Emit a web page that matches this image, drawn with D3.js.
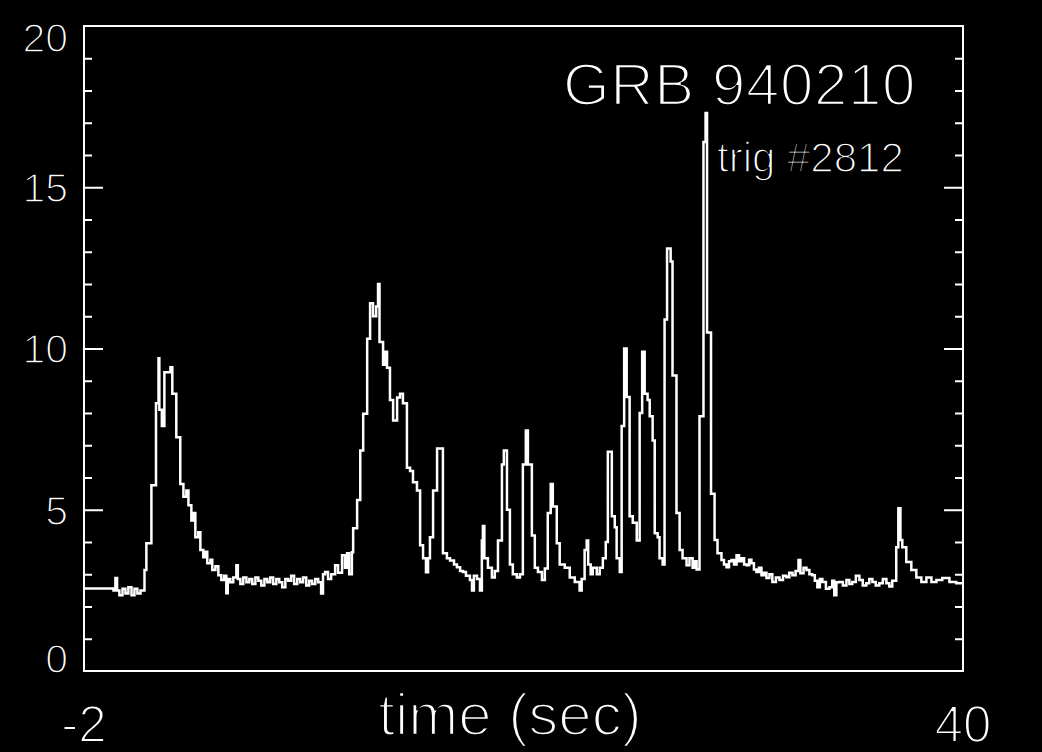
<!DOCTYPE html>
<html>
<head>
<meta charset="utf-8">
<script src="https://cdn.jsdelivr.net/npm/d3@7"></script>
<style>
  body { margin: 0; background: #000; }
  text { font-family: "Liberation Sans", Arial, sans-serif; fill: #fff; }
</style>
</head>
<body>
<svg id="chart"></svg>
<script>
// light curve, bin start time (sec) and rate
const binStart = [
  -2.00, -0.59, -0.50, -0.42, -0.31, -0.16, -0.02, 0.12, 0.27, 0.41, 0.55, 0.70,
  0.89, 0.98, 1.22, 1.44, 1.56, 1.60, 1.72, 1.84, 2.13, 2.22, 2.41, 2.60, 2.75, 2.89,
  2.99, 3.13, 3.23, 3.32, 3.46, 3.56, 3.70, 3.80, 3.89, 4.04, 4.13, 4.28, 4.42, 4.56,
  4.70, 4.80, 4.87, 4.99, 5.13, 5.28, 5.35, 5.47, 5.61, 5.76, 5.90, 6.04, 6.19, 6.33,
  6.47, 6.62, 6.76, 6.90, 7.04, 7.19, 7.33, 7.47, 7.62, 7.76, 7.90, 8.04, 8.19, 8.33,
  8.47, 8.62, 8.76, 8.90, 9.05, 9.19, 9.33, 9.42, 9.52, 9.66, 9.81, 10.00, 10.14, 10.33,
  10.47, 10.57, 10.67, 10.80, 10.86, 11.05, 11.20, 11.34, 11.53, 11.67, 11.81, 11.96,
  12.05, 12.12, 12.29, 12.39, 12.48, 12.62, 12.77, 12.96, 13.10, 13.24, 13.43, 13.58,
  13.72, 13.91, 14.06, 14.20, 14.34, 14.44, 14.53, 14.68, 14.87, 15.15, 15.34, 15.49,
  15.68, 15.82, 15.97, 16.11, 16.25, 16.44, 16.54, 16.63, 16.78, 16.92, 17.01, 17.06,
  17.13, 17.30, 17.49, 17.63, 17.78, 17.97, 18.06, 18.21, 18.35, 18.49, 18.68, 18.83,
  18.97, 19.11, 19.21, 19.40, 19.54, 19.69, 19.88, 20.02, 20.16, 20.30, 20.40, 20.59,
  20.73, 20.97, 21.21, 21.45, 21.68, 21.78, 21.92, 22.02, 22.09, 22.21, 22.31, 22.50,
  22.64, 22.79, 22.93, 23.03, 23.22, 23.36, 23.45, 23.60, 23.69, 23.81, 23.93, 24.07,
  24.22, 24.41, 24.55, 24.67, 24.79, 24.93, 25.03, 25.17, 25.27, 25.41, 25.50, 25.65,
  25.74, 25.86, 26.03, 26.12, 26.31, 26.46, 26.60, 26.79, 26.93, 27.08, 27.17, 27.27,
  27.41, 27.60, 27.70, 27.77, 27.96, 28.13, 28.27, 28.46, 28.58, 28.70, 28.82, 28.94,
  29.06, 29.18, 29.30, 29.42, 29.54, 29.66, 29.78, 29.89, 30.01, 30.13, 30.25, 30.37,
  30.49, 30.61, 30.75, 30.89, 31.06, 31.23, 31.40, 31.56, 31.70, 31.85, 32.00, 32.14,
  32.23, 32.38, 32.52, 32.66, 32.80, 32.92, 33.04, 33.16, 33.28, 33.45, 33.62, 33.75,
  33.85, 33.95, 34.09, 34.26, 34.43, 34.57, 34.71, 34.88, 35.05, 35.21, 35.38, 35.52,
  35.67, 35.83, 36.00, 36.17, 36.34, 36.48, 36.62, 36.81, 36.91, 37.01, 37.10, 37.29,
  37.53, 37.77, 38.01, 38.25, 38.49, 38.73, 39.01, 39.35, 39.68, 40.00
];
const countRate = [
  2.56, 2.50, 2.88, 2.50, 2.35, 2.55, 2.40, 2.60, 2.35, 2.55, 2.40, 2.50,
  3.13, 3.96, 5.76, 8.30, 9.70, 8.10, 7.60, 9.26, 9.42, 8.60, 7.25, 5.80, 5.40, 5.60,
  5.14, 4.67, 4.90, 4.15, 4.30, 3.75, 3.53, 3.70, 3.34, 3.45, 3.13, 3.25, 2.97, 2.82,
  2.95, 2.41, 2.85, 2.75, 2.90, 3.28, 2.85, 2.70, 2.90, 2.75, 2.85, 2.70, 2.90, 2.80,
  2.65, 2.85, 2.75, 2.90, 2.70, 2.85, 2.75, 2.60, 2.85, 2.80, 2.95, 2.70, 2.85, 2.75,
  2.90, 2.65, 2.80, 2.70, 2.85, 2.75, 2.40, 3.00, 3.07, 2.85, 3.00, 3.28, 3.05, 3.59,
  3.20, 3.65, 3.00, 3.68, 4.43, 5.30, 6.84, 7.98, 10.30, 11.40, 11.00, 11.30,
  12.00, 10.20, 9.50, 9.90, 9.40, 8.40, 7.77, 8.48, 8.60, 8.30, 6.30, 6.20,
  5.85, 5.60, 3.90, 3.50, 3.06, 3.50, 4.15, 5.60, 6.90, 3.65, 3.50, 3.43,
  3.30, 3.22, 3.10, 3.07, 2.95, 2.82, 2.50, 2.95, 2.85, 2.50, 4.05, 4.50,
  3.50, 3.20, 2.90, 3.10, 4.05, 6.40, 6.84, 5.00, 3.30, 3.00, 2.90, 3.00,
  6.40, 7.46, 6.40, 4.20, 3.20, 3.07, 2.82, 3.18, 4.90, 5.80, 5.10, 3.96,
  3.30, 3.20, 2.90, 2.76, 2.50, 2.85, 3.75, 4.05, 3.30, 3.00, 3.20, 3.00,
  3.20, 3.50, 4.00, 6.80, 4.80, 4.46, 3.50, 3.07, 7.60, 10.00, 8.50, 4.80,
  4.60, 4.05, 8.00, 9.90, 8.60, 8.40, 7.90, 7.15, 4.27, 4.15, 3.50, 3.30,
  10.90, 13.10, 12.70, 9.16, 4.90, 3.75, 3.50, 3.28, 3.50, 3.20, 3.40, 3.15,
  7.90, 16.40, 17.30, 10.50, 5.50, 4.06, 3.65, 3.44, 3.30, 3.22, 3.40, 3.44,
  3.30, 3.59, 3.40, 3.50, 3.30, 3.28, 3.45, 3.34, 3.15, 3.07, 3.20, 2.97,
  3.05, 2.88, 3.00, 2.76, 2.90, 2.82, 2.95, 2.91, 3.05, 2.97, 3.10, 3.44,
  3.03, 3.20, 3.13, 3.00, 2.97, 2.80, 2.60, 2.85, 2.76, 2.55, 2.60, 2.80,
  2.35, 2.75, 2.76, 2.65, 2.82, 2.70, 2.76, 2.95, 2.82, 2.65, 2.72, 2.85,
  2.76, 2.65, 2.72, 2.85, 2.72, 2.62, 2.80, 3.84, 5.05, 4.06, 3.84, 3.38,
  3.13, 2.90, 2.76, 2.90, 2.76, 2.82, 2.88, 2.76, 2.72, 2.72
];
const yMajorTicks = [0, 5, 10, 15, 20];
const yMinorTicks = [1, 2, 3, 4, 6, 7, 8, 9, 11, 12, 13, 14, 16, 17, 18, 19];
const xEndLabels = [-2, 40];
const burstName = "GRB 940210";
const triggerName = "trig #2812";
const xTitle = "time (sec)";

const width = 1042, height = 752;
const svg = d3.select("#chart")
  .attr("width", width)
  .attr("height", height)
  .style("background", "#000");

const x = d3.scaleLinear().domain([-2, 40]).range([84, 963]);
const y = d3.scaleLinear().domain([0, 20]).range([671, 26]);

// frame
svg.append("rect")
  .attr("x", x(-2))
  .attr("y", y(20))
  .attr("width", x(40) - x(-2))
  .attr("height", y(0) - y(20))
  .attr("fill", "none")
  .attr("stroke", "#fff")
  .attr("stroke-width", 2);

// inward ticks on both vertical sides
function ticks(axis, values, size, xpos) {
  svg.append("g")
    .attr("transform", `translate(${xpos},0)`)
    .call(axis(y).tickValues(values).tickSize(size).tickFormat(""))
    .call(g => g.select(".domain").remove())
    .call(g => g.selectAll("line").attr("stroke", "#fff").attr("stroke-width", 2));
}
ticks(d3.axisRight, yMajorTicks.slice(1, -1), 19, x(-2));
ticks(d3.axisRight, yMinorTicks, 8, x(-2));
ticks(d3.axisLeft, yMajorTicks.slice(1, -1), 19, x(40));
ticks(d3.axisLeft, yMinorTicks, 8, x(40));

// y labels (end ones nudged inside the frame like the original)
svg.append("g").selectAll("text")
  .data(yMajorTicks)
  .join("text")
  .attr("x", x(-2) - 16)
  .attr("y", d => Math.min(Math.max(y(d), y(20) + 11), y(0) - 13))
  .attr("dy", "0.36em")
  .attr("text-anchor", "end")
  .attr("font-size", 41)
  .attr("stroke", "#000")
  .attr("stroke-width", 1.6)
  .text(d => d);

svg.append("g").selectAll("text")
  .data(xEndLabels)
  .join("text")
  .attr("x", d => x(d))
  .attr("y", 742)
  .attr("text-anchor", "middle")
  .attr("font-size", 51)
  .attr("stroke", "#000")
  .attr("stroke-width", 2)
  .text(d => d);

svg.append("text")
  .attr("x", 510)
  .attr("y", 735)
  .attr("text-anchor", "middle")
  .attr("font-size", 60)
  .attr("stroke", "#000")
  .attr("stroke-width", 2.4)
  .text(xTitle);

svg.append("text")
  .attr("x", 563)
  .attr("y", 105)
  .attr("font-size", 60)
  .attr("letter-spacing", 0.6)
  .attr("stroke", "#000")
  .attr("stroke-width", 2.4)
  .text(burstName);

svg.append("text")
  .attr("x", 717)
  .attr("y", 172)
  .attr("font-size", 42)
  .attr("stroke", "#000")
  .attr("stroke-width", 1.6)
  .text(triggerName);

// light curve
const lc = binStart.map((t, i) => [t, countRate[i]]);
const line = d3.line()
  .x(d => x(d[0]))
  .y(d => y(d[1]))
  .curve(d3.curveStepAfter);

svg.append("path")
  .datum(lc)
  .attr("d", line)
  .attr("fill", "none")
  .attr("stroke", "#fff")
  .attr("stroke-width", 2.5);
</script>
</body>
</html>
